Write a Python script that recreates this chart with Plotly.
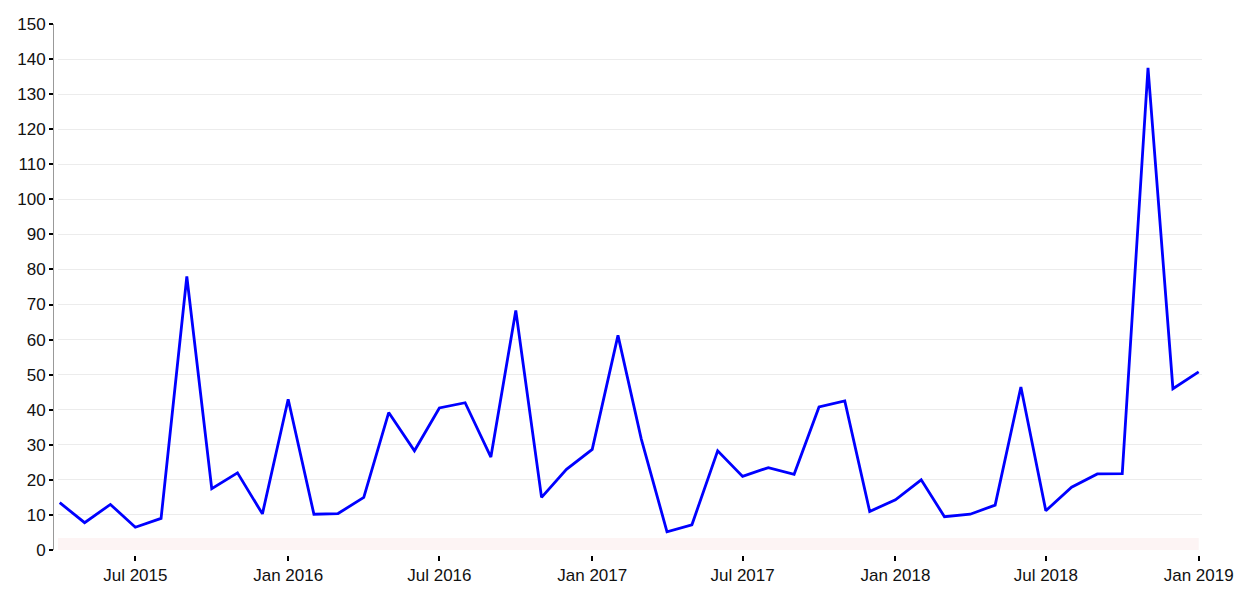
import plotly.graph_objects as go

months = [
    "2015-04-01", "2015-05-01", "2015-06-01", "2015-07-01", "2015-08-01", "2015-09-01",
    "2015-10-01", "2015-11-01", "2015-12-01", "2016-01-01", "2016-02-01", "2016-03-01",
    "2016-04-01", "2016-05-01", "2016-06-01", "2016-07-01", "2016-08-01", "2016-09-01",
    "2016-10-01", "2016-11-01", "2016-12-01", "2017-01-01", "2017-02-01", "2017-03-01",
    "2017-04-01", "2017-05-01", "2017-06-01", "2017-07-01", "2017-08-01", "2017-09-01",
    "2017-10-01", "2017-11-01", "2017-12-01", "2018-01-01", "2018-02-01", "2018-03-01",
    "2018-04-01", "2018-05-01", "2018-06-01", "2018-07-01", "2018-08-01", "2018-09-01",
    "2018-10-01", "2018-11-01", "2018-12-01", "2019-01-01",
]
values = [
    13.5, 7.8, 13.0, 6.5, 9.0, 78.0,
    17.5, 22.0, 10.3, 43.0, 10.2, 10.4,
    15.0, 39.2, 28.3, 40.5, 42.0, 26.5,
    68.3, 15.0, 23.0, 28.7, 61.2, 31.7,
    5.2, 7.2, 28.3, 21.0, 23.5, 21.6,
    40.8, 42.5, 11.0, 14.3, 20.0, 9.5,
    10.2, 12.8, 46.5, 11.2, 17.9, 21.7,
    21.8, 137.5, 46.0, 50.8,
]
x_tick_vals = ["2015-07-01", "2016-01-01", "2016-07-01", "2017-01-01",
               "2017-07-01", "2018-01-01", "2018-07-01", "2019-01-01"]
x_tick_text = ["Jul 2015", "Jan 2016", "Jul 2016", "Jan 2017",
               "Jul 2017", "Jan 2018", "Jul 2018", "Jan 2019"]
y_tick_vals = list(range(0, 151, 10))
band_low, band_high = 0, 3.4
x_range = ["2015-03-30", "2019-01-05"]

fig = go.Figure()
fig.add_trace(go.Scatter(
    x=months, y=values, mode="lines",
    line=dict(color="#0000ff", width=2.8),
    hoverinfo="x+y",
))

fig.add_shape(type="rect", xref="x", yref="y",
              x0=x_range[0], x1="2019-01-01", y0=band_low, y1=band_high,
              fillcolor="#fdf4f4", line=dict(width=0), layer="below")

fig.update_layout(
    width=1245, height=597,
    margin=dict(l=45, r=51, t=16, b=50),
    paper_bgcolor="white", plot_bgcolor="white",
    showlegend=False,
    font=dict(family="Liberation Sans, Arial, sans-serif", size=17, color="#111111"),
    xaxis=dict(
        domain=[0.0044, 1],
        type="date",
        range=x_range,
        tickvals=x_tick_vals, ticktext=x_tick_text,
        ticks="outside", ticklen=5, tickwidth=2, tickcolor="#000000",
        showgrid=False, showline=False, zeroline=False,
        anchor="free", position=0, automargin=False,
    ),
    yaxis=dict(
        domain=[0.0094, 1],
        range=[0, 150],
        tickvals=y_tick_vals,
        ticks="outside", ticklen=4, tickwidth=2, tickcolor="#000000",
        showgrid=True, gridcolor="#ececec", gridwidth=1,
        showline=True, linecolor="#999999", linewidth=1,
        zeroline=False,
        anchor="free", position=0, automargin=False,
    ),
)

fig.write_html("out.html")
